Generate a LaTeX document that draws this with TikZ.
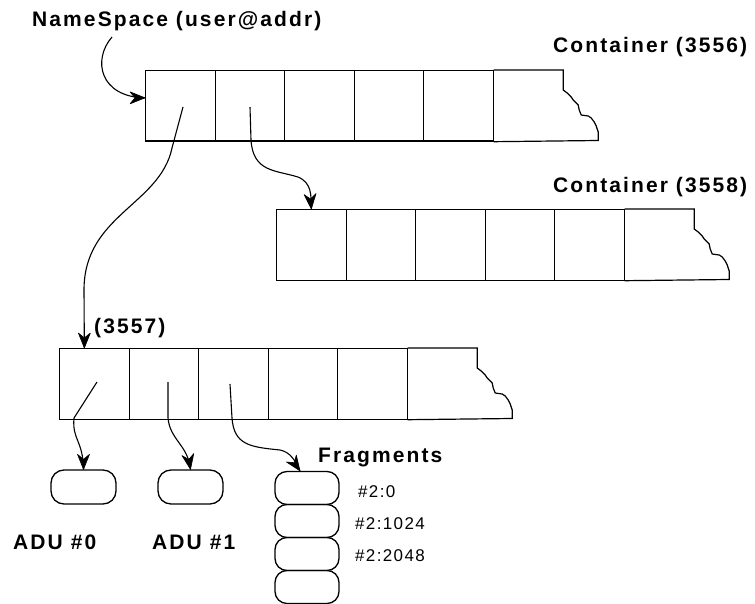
\documentclass[tikz,border=0pt]{standalone}
\usepackage{fontspec}
\usetikzlibrary{arrows.meta}
\newfontfamily\labfont[LetterSpace=10]{Liberation Sans}
\newfontfamily\smallfont[LetterSpace=8]{Liberation Sans}
\tikzset{
  cell/.style={draw, line width=1.2pt, minimum width=69.5pt, minimum height=70.5pt, inner sep=0pt, anchor=north west},
  jagged/.style={line width=1.2pt, line join=miter},
  conn/.style={line width=1.1pt},
  tipstyle/.style={fill=black, draw=black, line width=0.6pt, line join=round},
  rbox/.style={draw, line width=1.3pt, rounded corners=13pt, minimum width=65pt, minimum height=34pt, inner sep=0pt},
  fbox/.style={draw, line width=1.3pt, rounded corners=12pt, minimum width=64pt, minimum height=33pt, inner sep=0pt},
  big/.style={anchor=base west, inner sep=0pt, font=\labfont\bfseries\fontsize{21}{24}\selectfont},
  small/.style={anchor=base west, inner sep=0pt, font=\smallfont\fontsize{17}{20}\selectfont},
}
\newcommand{\mycontainer}[3]{%
  \foreach \i in {1,...,5} {\node[cell] (#1\i) at ({#2+(\i-1)*69.5},#3) {};}
  \draw[jagged] (#15.north east) -- ++(69.5,0) -- ++(0,20) -- ++(4,3) -- ++(4,4) -- ++(2,3) -- ++(3,3)
    -- ++(2,2) -- ++(1,5) -- ++(2,5) -- ++(7,1) -- ++(3,2) -- ++(3,4) -- ++(2,4) -- ++(2,6) -- ++(0,8.5)
    -- (#15.south east);
}
% filled arrow tip: #1 = tip point, #2 = page angle of travel direction (degrees, counterclockwise)
\newcommand{\mytip}[2]{%
  \fill[tipstyle, shift={(#1)}, rotate=#2] (0,0) -- (-15,6) -- (-10,0) -- (-15,-6) -- cycle;
}
\begin{document}
\begin{tikzpicture}[x=1pt,y=-1pt]
\useasboundingbox (0,0) rectangle (755,604);
% containers
\mycontainer{a}{145}{70}
\mycontainer{d}{276}{209}
\mycontainer{b}{59}{348}
% labels
\node[big] (lns) at (32,27) {NameSpace (user@addr)};
\node[big] (lc1) at (553,53) {Container (3556)};
\node[big] (lc2) at (553,193) {Container (3558)};
\node[big] (lc3) at (94,333) {(3557)};
\node[big] (lfr) at (318,462) {Fragments};
\node[big] (ladu0) at (13,549) {ADU \#0};
\node[big] (ladu1) at (152,549) {ADU \#1};
\node[small] (lf1) at (358,497) {\#2:0};
\node[small] (lf2) at (355,529) {\#2:1024};
\node[small] (lf3) at (355,561) {\#2:2048};
% boxes
\node[rbox] (adu0) at (83.5,487) {};
\node[rbox] (adu1) at (190.5,487) {};
\node[fbox] (f1) at (307,488) {};
\node[fbox] (f2) at (307,521) {};
\node[fbox] (f3) at (307,554) {};
\node[fbox] (f4) at (307,587) {};
% connector start points
\coordinate (ns) at (112,37);
\coordinate (pa1) at (183,107);
\coordinate (pa2) at (250,107);
\coordinate (pb1) at (97,382);
\coordinate (pb2) at (168,382);
\coordinate (pb3) at (230,384);
% connectors
\draw[conn] (ns) .. controls (92,60) and (100,97) .. ([yshift=8pt]a1.west);
\mytip{[yshift=8pt]a1.west}{0}
\draw[conn] (pa1) -- (172,148) .. controls (160,205) and (84,215) .. (84,290) -- ([xshift=-10pt]b1.north);
\mytip{[xshift=-10pt]b1.north}{-90}
\draw[conn] (pa2) -- (251,140) .. controls (253,172) and (275,170) .. (298,177) .. controls (312,183) and (311,195) .. (d1.north);
\mytip{d1.north}{-85}
\draw[conn] (pb1) -- (74,418) .. controls (72,440) and (83,440) .. (adu0.north);
\mytip{adu0.north}{-90}
\draw[conn] (pb2) -- (168,418) .. controls (170,440) and (188,445) .. (adu1.north);
\mytip{adu1.north}{-80}
\draw[conn] (pb3) -- (232,418) .. controls (234,445) and (250,447) .. (280,450) .. controls (290,452) and (295,460) .. ([xshift=-7pt]f1.north);
\mytip{[xshift=-7pt]f1.north}{-55}
\end{tikzpicture}
\end{document}
